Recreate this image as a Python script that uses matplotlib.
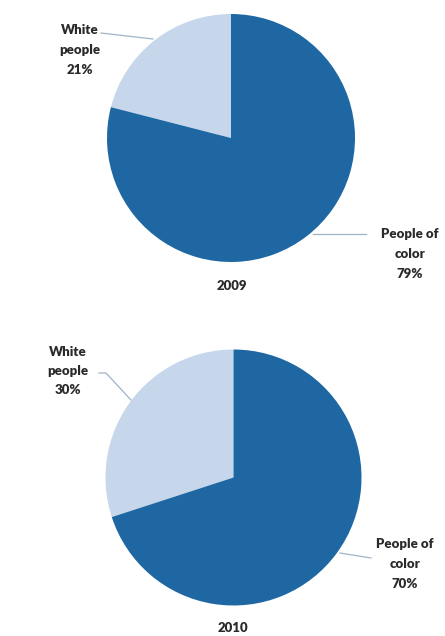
import matplotlib.pyplot as plt

categories = ["White\npeople", "People of\ncolor"]
years = ["2009", "2010"]
values_2009 = [21, 79]
values_2010 = [30, 70]

colors = ["#c6d7ec", "#1f67a3"]
H = 636
fig = plt.figure(figsize=(4.45, 6.36), dpi=100)
ax = fig.add_axes([0, 0, 1, 1])
ax.set_xlim(0, 445)
ax.set_ylim(0, H)
ax.set_aspect("equal")
ax.axis("off")

font = dict(family="Lato", fontweight="heavy", fontsize=9.5, color="#2a2a2a",
            ha="center", va="center", linespacing=1.75)
line_kw = dict(color="#9fb3c8", lw=0.9)

# 2009
vals = values_2009
ax.pie(vals, colors=colors, startangle=90, counterclock=True,
       center=(231, H - 138), radius=124, wedgeprops=dict(linewidth=0))
ax.text(80, H - 50, f"{categories[0]}\n{vals[0]}%", **font)
ax.plot([101, 153], [H - 33, H - 39], **line_kw)
ax.text(410, H - 254, f"{categories[1]}\n{vals[1]}%", **font)
ax.plot([313, 366], [H - 234, H - 234], **line_kw)
ax.text(232, H - 286, years[0], **font)

# 2010
vals = values_2010
ax.pie(vals, colors=colors, startangle=90, counterclock=True,
       center=(233.5, H - 477.5), radius=128, wedgeprops=dict(linewidth=0))
ax.text(68, H - 371, f"{categories[0]}\n{vals[0]}%", **font)
ax.plot([99, 106, 131], [H - 373, H - 373, H - 400], **line_kw)
ax.text(405, H - 564, f"{categories[1]}\n{vals[1]}%", **font)
ax.plot([340, 371], [H - 553, H - 558], **line_kw)
ax.text(233, H - 628, years[1], **font)

ax.set_xlim(0, 445)
ax.set_ylim(0, H)
fig.savefig("out.png", dpi=100)
